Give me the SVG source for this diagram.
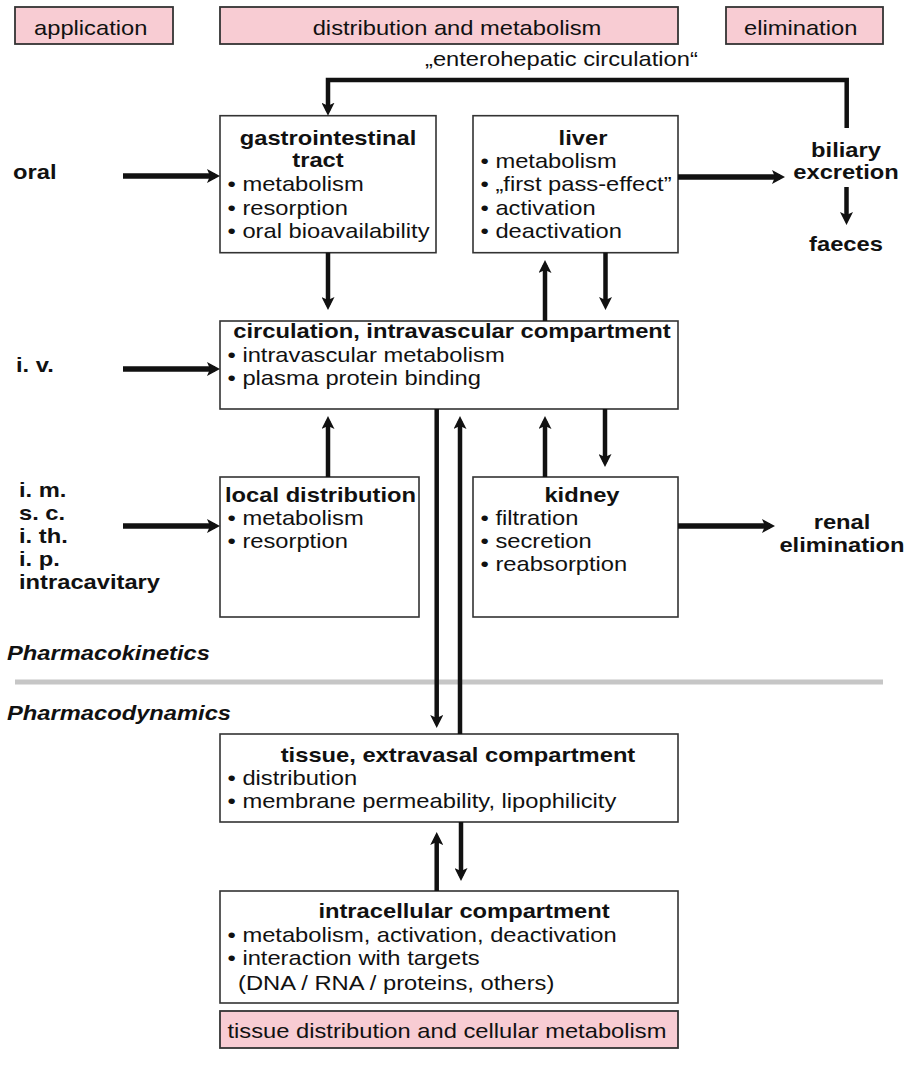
<svg xmlns="http://www.w3.org/2000/svg" width="919" height="1076" viewBox="0 0 919 1076">
<style>
text{fill:#111;font-family:"Liberation Sans",Arial,sans-serif;font-size:21px}
.b{font-weight:bold}
.bi{font-weight:bold;font-style:italic}
.m{text-anchor:middle}
.box{fill:#fff;stroke:#333;stroke-width:1.6}
.pink{fill:#f8ccd3;stroke:#333;stroke-width:1.8}
.c{fill:none;stroke:#111;stroke-linejoin:miter}
.thick{stroke-width:5.5;marker-end:url(#ah)}
.thin{stroke-width:4.5;marker-end:url(#ah2)}
</style>
<defs>
<marker id="ah" viewBox="0 0 13 14" refX="8" refY="7" markerWidth="13" markerHeight="14" markerUnits="userSpaceOnUse" orient="auto"><path d="M0,0 L13,7 L0,14 L3,7 Z" fill="#111"/></marker>
<marker id="ah2" viewBox="0 0 13 13" refX="8" refY="6.5" markerWidth="13" markerHeight="13" markerUnits="userSpaceOnUse" orient="auto"><path d="M0,0 L13,6.5 L0,13 L3,6.5 Z" fill="#111"/></marker>
</defs>
<rect width="919" height="1076" fill="#fff"/>

<g id="header-application"><rect class="pink" x="15" y="7" width="158" height="37"/><text transform="translate(34 35) scale(1.13 1)">application</text></g>
<g id="header-distribution"><rect class="pink" x="220" y="7" width="458" height="37"/><text class="m" transform="translate(457 35) scale(1.13 1)">distribution and metabolism</text></g>
<g id="header-elimination"><rect class="pink" x="726" y="7" width="157" height="37"/><text transform="translate(744 35) scale(1.13 1)">elimination</text></g>

<g id="label-enterohepatic"><text transform="translate(425 66) scale(1.13 1)">„enterohepatic circulation“</text></g>

<g id="label-oral"><text class="b" transform="translate(13 179) scale(1.13 1)">oral</text></g>
<g id="label-iv"><text class="b" transform="translate(16 372) scale(1.13 1)">i. v.</text></g>
<g id="label-parenteral">
<text class="b" transform="translate(19 497) scale(1.13 1)">i. m.</text>
<text class="b" transform="translate(19 520) scale(1.13 1)">s. c.</text>
<text class="b" transform="translate(19 543) scale(1.13 1)">i. th.</text>
<text class="b" transform="translate(19 566) scale(1.13 1)">i. p.</text>
<text class="b" transform="translate(19 589) scale(1.13 1)">intracavitary</text>
</g>

<g id="node-gi"><rect class="box" x="220" y="115.7" width="216" height="137"/>
<text class="b m" transform="translate(328 145) scale(1.13 1)">gastrointestinal</text>
<text class="b m" transform="translate(318 167) scale(1.13 1)">tract</text>
<text transform="translate(227.5 191) scale(1.13 1)">• metabolism</text>
<text transform="translate(227.5 214.5) scale(1.13 1)">• resorption</text>
<text transform="translate(227.5 238) scale(1.13 1)">• oral bioavailability</text>
</g>

<g id="node-liver"><rect class="box" x="473" y="115.7" width="205" height="137"/>
<text class="b m" transform="translate(583 145) scale(1.13 1)">liver</text>
<text transform="translate(480.5 168) scale(1.13 1)">• metabolism</text>
<text transform="translate(480.5 191) scale(1.13 1)">• „first pass-effect”</text>
<text transform="translate(480.5 214.5) scale(1.13 1)">• activation</text>
<text transform="translate(480.5 238) scale(1.13 1)">• deactivation</text>
</g>

<g id="node-biliary"><text class="b m" transform="translate(846 157) scale(1.13 1)">biliary</text><text class="b m" transform="translate(846 179) scale(1.13 1)">excretion</text></g>
<g id="node-faeces"><text class="b m" transform="translate(846 251) scale(1.13 1)">faeces</text></g>

<g id="node-circulation"><rect class="box" x="220" y="321" width="458" height="88"/>
<text class="b m" transform="translate(452 338) scale(1.13 1)">circulation, intravascular compartment</text>
<text transform="translate(227.5 362) scale(1.13 1)">• intravascular metabolism</text>
<text transform="translate(227.5 385) scale(1.13 1)">• plasma protein binding</text>
</g>

<g id="node-local"><rect class="box" x="220" y="477" width="199" height="140"/>
<text class="b" transform="translate(225 502) scale(1.13 1)">local distribution</text>
<text transform="translate(227.5 525) scale(1.13 1)">• metabolism</text>
<text transform="translate(227.5 548) scale(1.13 1)">• resorption</text>
</g>

<g id="node-kidney"><rect class="box" x="473" y="477" width="205" height="140"/>
<text class="b m" transform="translate(582 502) scale(1.13 1)">kidney</text>
<text transform="translate(480.5 525) scale(1.13 1)">• filtration</text>
<text transform="translate(480.5 548) scale(1.13 1)">• secretion</text>
<text transform="translate(480.5 571) scale(1.13 1)">• reabsorption</text>
</g>

<g id="node-renal"><text class="b m" transform="translate(842 529) scale(1.13 1)">renal</text><text class="b m" transform="translate(842 552) scale(1.13 1)">elimination</text></g>

<g id="divider">
<text class="bi" transform="translate(7 660) scale(1.13 1)">Pharmacokinetics</text>
<line x1="15" y1="682" x2="883" y2="682" stroke="#c6c6c6" stroke-width="5"/>
<text class="bi" transform="translate(7 720) scale(1.13 1)">Pharmacodynamics</text>
</g>

<g id="node-tissue"><rect class="box" x="220" y="734" width="458" height="88"/>
<text class="b m" transform="translate(458 761.5) scale(1.13 1)">tissue, extravasal compartment</text>
<text transform="translate(227.5 785) scale(1.13 1)">• distribution</text>
<text transform="translate(227.5 808) scale(1.13 1)">• membrane permeability, lipophilicity</text>
</g>

<g id="node-intracellular"><rect class="box" x="220" y="891" width="458" height="112"/>
<text class="b m" transform="translate(464 918) scale(1.13 1)">intracellular compartment</text>
<text transform="translate(227.5 942) scale(1.13 1)">• metabolism, activation, deactivation</text>
<text transform="translate(227.5 965) scale(1.13 1)">• interaction with targets</text>
<text transform="translate(238 990) scale(1.13 1)">(DNA / RNA / proteins, others)</text>
</g>

<g id="footer-tissue-distribution"><rect class="pink" x="220" y="1011" width="458" height="37"/>
<text transform="translate(227.5 1038) scale(1.13 1)">tissue distribution and cellular metabolism</text></g>

<g id="connectors">
<path class="c thick" d="M123,176 H215"/>
<path class="c thick" d="M123,369 H215"/>
<path class="c thick" d="M123,526 H215"/>
<path class="c thick" d="M678,177 H780"/>
<path class="c thick" d="M678,526 H770"/>
<path class="c thin" d="M846.7,128 V80 H328 V110.7"/>
<path class="c thin" d="M846.5,187 V220"/>
<path class="c thin" d="M328,252.7 V305"/>
<path class="c thin" d="M545,321 V265"/>
<path class="c thin" d="M605.5,252.7 V305"/>
<path class="c thin" d="M328,477 V421"/>
<path class="c thin" d="M545,477 V421"/>
<path class="c thin" d="M605,409 V462"/>
<path class="c thin" d="M436.7,409 V723"/>
<path class="c thin" d="M460,734 V421"/>
<path class="c thin" d="M436.7,891 V837"/>
<path class="c thin" d="M461,822 V876"/>
</g>
</svg>
